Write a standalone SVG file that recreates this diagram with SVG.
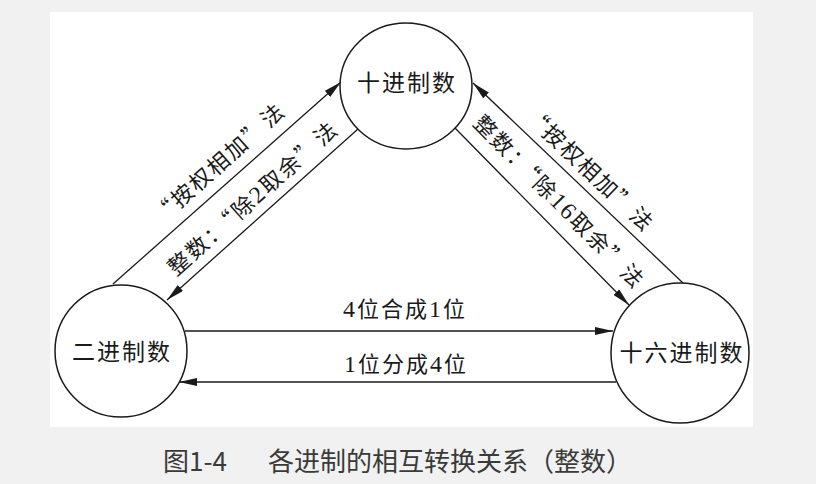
<svg xmlns="http://www.w3.org/2000/svg" width="816" height="484" viewBox="0 0 816 484">
  <style>
    .node { fill: #ffffff; stroke: #1a1a1a; stroke-width: 1.5; }
    .edge { stroke: #1a1a1a; stroke-width: 1.3; fill: none; marker-end: url(#arrow); }
    .nlabel { font-family: "Noto Sans CJK SC", sans-serif; font-size: 23px; letter-spacing: 2px; fill: #1a1a1a; text-anchor: middle; }
    .elabel { font-family: "Noto Sans CJK SC", sans-serif; font-size: 22px; letter-spacing: 2px; fill: #1a1a1a; text-anchor: middle; }
    .num { font-family: "Liberation Serif", serif; font-size: 24px; }
    .caption { font-family: "Noto Sans CJK SC", sans-serif; font-size: 26px; fill: #3a3a3a; }
  </style>
  <defs>
    <marker id="arrow" markerUnits="userSpaceOnUse" markerWidth="18" markerHeight="8" refX="18" refY="4" orient="auto">
      <path d="M0,0 L18,4 L0,8 Z" fill="#1a1a1a"/>
    </marker>
  </defs>

  <rect x="0" y="0" width="816" height="484" fill="#f1f1f1"/>
  <rect x="50" y="12" width="703" height="415" fill="#ffffff"/>

  <g id="connectors">
    <line class="edge" x1="113" y1="284" x2="341" y2="82"/>
    <line class="edge" x1="358" y1="129" x2="167" y2="300"/>
    <line class="edge" x1="683" y1="283" x2="473" y2="83"/>
    <line class="edge" x1="455" y1="128" x2="629" y2="305"/>
    <line class="edge" x1="185" y1="331" x2="613" y2="331"/>
    <line class="edge" x1="616" y1="382" x2="179" y2="382"/>
  </g>

  <g id="connector-labels">
    <text class="elabel" transform="translate(232,179) rotate(-41.6)" x="1" y="-12.6">“按权相加”法</text>
    <text class="elabel" transform="translate(233.3,177.5) rotate(-41.6)" x="1" y="36.4">整数：“除<tspan class="num">2</tspan>取余”法</text>
    <text class="elabel" transform="translate(576.9,182) rotate(43.6)" x="1" y="-9.6">“按权相加”法</text>
    <text class="elabel" transform="translate(542.6,217.1) rotate(45.5)" x="1" y="-14.6">整数：“除<tspan class="num">16</tspan>取余”法</text>
    <text class="elabel" x="405" y="317"><tspan class="num">4</tspan>位合成<tspan class="num">1</tspan>位</text>
    <text class="elabel" x="406" y="372"><tspan class="num">1</tspan>位分成<tspan class="num">4</tspan>位</text>
  </g>

  <g id="node-decimal">
    <ellipse class="node" cx="406" cy="86" rx="66" ry="63"/>
    <text class="nlabel" x="407" y="91">十进制数</text>
  </g>
  <g id="node-binary">
    <circle class="node" cx="121" cy="351" r="66"/>
    <text class="nlabel" x="122" y="360">二进制数</text>
  </g>
  <g id="node-hex">
    <ellipse class="node" cx="680" cy="353" rx="69" ry="70"/>
    <text class="nlabel" x="682" y="361">十六进制数</text>
  </g>

  <g id="caption">
    <text class="caption" x="163" y="471">图1-4</text>
    <text class="caption" x="268" y="471">各进制的相互转换关系（整数）</text>
  </g>
</svg>
